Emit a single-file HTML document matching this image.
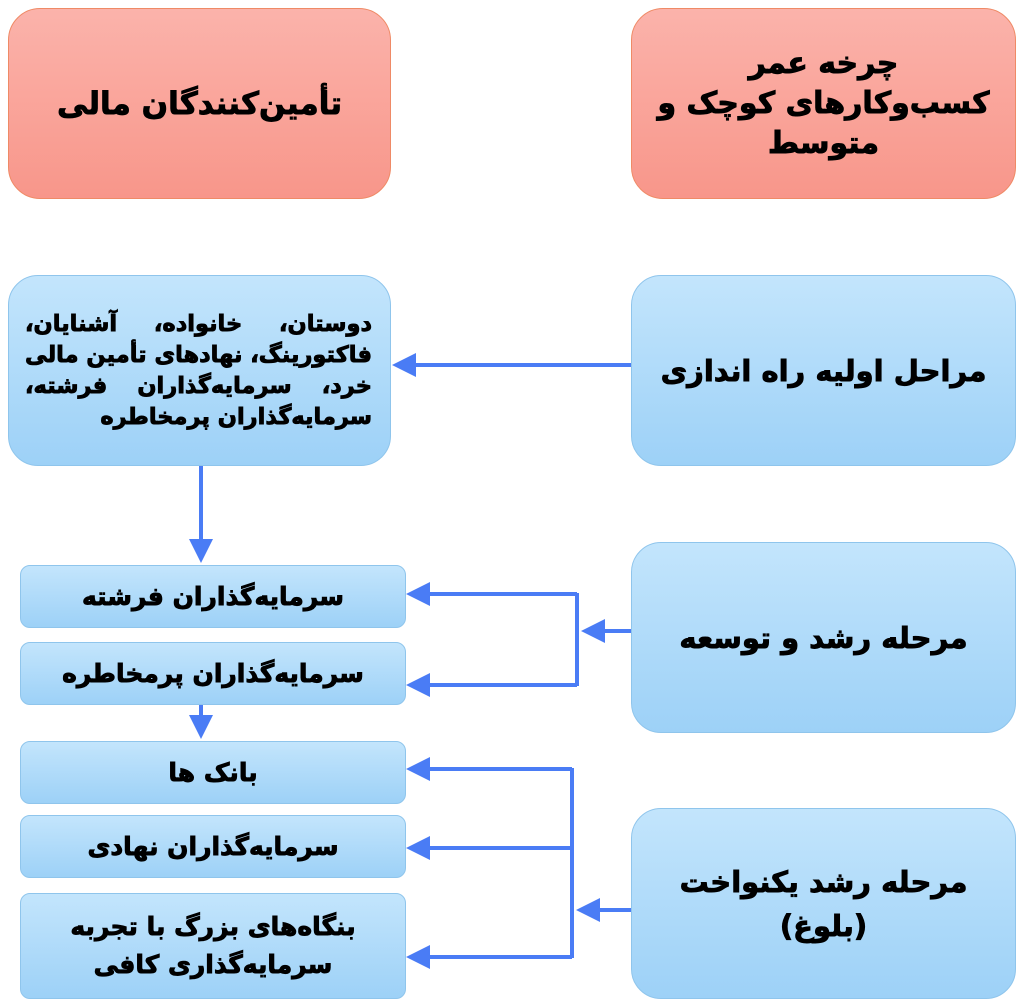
<!DOCTYPE html>
<html><head><meta charset="utf-8"><style>
body{margin:0;width:1024px;height:1007px;background:#fff;position:relative;overflow:hidden;font-family:"DejaVu Sans","Noto Sans CJK SC",sans-serif;font-weight:bold;color:#000;-webkit-text-stroke:0.9px #000}
.b{position:absolute;box-sizing:border-box;display:flex;flex-direction:column;align-items:center;justify-content:center;text-align:center;direction:rtl}
.r{background:linear-gradient(#fbb3ab,#f8968a);border:1.5px solid #ef8a66;border-radius:32px}
.u{background:linear-gradient(#c3e5fc,#9dd1f7);border:1.5px solid #8fc5ec;border-radius:30px}
.s{border-radius:10px}
.j{width:100%;text-align:justify;text-align-last:justify;white-space:nowrap}
svg{position:absolute;left:0;top:0}
</style></head><body>
<div class="b r" style="left:8px;top:8px;width:383px;height:191px;font-size:31px">تأمین‌کنندگان مالی</div>
<div class="b r" style="left:631px;top:8px;width:385px;height:191px;font-size:30px;line-height:40px">چرخه عمر<br>کسب‌وکارهای کوچک و<br>متوسط</div>
<div class="b u" style="left:631px;top:275px;width:385px;height:191px;font-size:29px">مراحل اولیه راه اندازی</div>
<div class="b u" style="left:631px;top:542px;width:385px;height:191px;font-size:29px">مرحله رشد و توسعه</div>
<div class="b u" style="left:631px;top:808px;width:385px;height:191px;font-size:29px;line-height:44px">مرحله رشد یکنواخت<br>(بلوغ)</div>
<div class="b u" style="left:8px;top:275px;width:383px;height:191px;font-size:22.5px;line-height:31px;padding:0 18px 0 16px;align-items:stretch">
<div class="j">دوستان، خانواده، آشنایان،</div>
<div class="j">فاکتورینگ، نهادهای تأمین مالی</div>
<div class="j">خرد، سرمایه‌گذاران فرشته،</div>
<div style="text-align:right;white-space:nowrap">سرمایه‌گذاران پرمخاطره</div>
</div>
<div class="b u s" style="left:20px;top:565px;width:386px;height:63px;font-size:25px">سرمایه‌گذاران فرشته</div>
<div class="b u s" style="left:20px;top:642px;width:386px;height:63px;font-size:25px">سرمایه‌گذاران پرمخاطره</div>
<div class="b u s" style="left:20px;top:741px;width:386px;height:63px;font-size:25px">بانک ها</div>
<div class="b u s" style="left:20px;top:815px;width:386px;height:63px;font-size:25px">سرمایه‌گذاران نهادی</div>
<div class="b u s" style="left:20px;top:893px;width:386px;height:106px;font-size:25px;line-height:38px">بنگاه‌های بزرگ با تجربه<br>سرمایه‌گذاری کافی</div>
<svg width="1024" height="1007">
<defs><marker id="a" markerWidth="6" markerHeight="6" refX="5" refY="3" orient="auto" markerUnits="strokeWidth"><path d="M0,0 L6,3 L0,6 z" fill="#4a7cf5"/></marker></defs>
<g stroke="#4a7cf5" stroke-width="4" fill="none">
<line x1="631" y1="365" x2="396" y2="365" marker-end="url(#a)"/>
<line x1="201" y1="466" x2="201" y2="559" marker-end="url(#a)"/>
<polyline points="577,593 577,686"/>
<line x1="631" y1="631" x2="585" y2="631" marker-end="url(#a)"/>
<line x1="577" y1="594" x2="410" y2="594" marker-end="url(#a)"/>
<line x1="577" y1="685" x2="410" y2="685" marker-end="url(#a)"/>
<line x1="201" y1="705" x2="201" y2="735" marker-end="url(#a)"/>
<polyline points="572,768 572,958"/>
<line x1="631" y1="910" x2="580" y2="910" marker-end="url(#a)"/>
<line x1="572" y1="769" x2="410" y2="769" marker-end="url(#a)"/>
<line x1="572" y1="848" x2="410" y2="848" marker-end="url(#a)"/>
<line x1="572" y1="957" x2="410" y2="957" marker-end="url(#a)"/>
</g></svg>
</body></html>
